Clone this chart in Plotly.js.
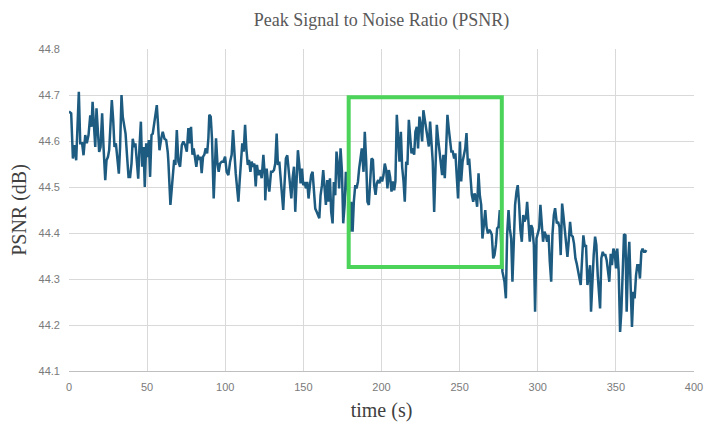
<!DOCTYPE html>
<html>
<head>
<meta charset="utf-8">
<script src="https://cdn.plot.ly/plotly-3.0.1.min.js"></script>
<style>html,body{margin:0;padding:0;background:#fff;}#chart{width:714px;height:432px;}</style>
</head>
<body>
<div id="chart"></div>
<script>
// time (s)
const timeSec = [
0,1.4,2.5,3.5,4.6,5.7,6.3,7.2,8.4,9.3,10.4,11.4,12.5,13.6,14.4,15.1,15.9,16.8,17.6,18.5,
19.3,20.2,21.2,22.1,23.2,24.0,24.9,25.7,26.6,27.4,28.3,29.1,30.0,31.0,31.9,32.7,33.6,34.4,35.3,36.2,
37.2,38.1,39.1,40.0,40.8,41.7,42.5,43.4,44.3,45.1,46.0,46.8,47.7,48.5,49.4,50.2,51.1,51.9,52.8,53.6,
54.5,55.3,56.2,57.0,57.9,59.0,60.0,61.1,62.2,63.2,
63.6,64.9,66.2,67.3,68.1,69.0,70.0,71.1,72.2,73.2,74.3,75.4,76.4,77.3,78.1,79.0,79.8,80.7,81.5,82.4,
83.2,84.1,84.9,85.8,86.6,87.5,88.4,89.2,89.8,90.7,91.5,92.6,93.5,94.1,95.0,95.8,96.7,97.7,98.8,99.9,
100.9,102.0,103.1,104.1,105.0,105.8,106.7,107.5,108.4,109.2,110.1,110.9,111.8,112.7,113.5,114.4,115.2,116.1,116.9,117.8,
118.6,119.5,120.3,121.2,122.2,123.3,124.4,125.4,
125.6,126.5,127.3,128.2,129.3,130.3,131.2,132.0,132.9,133.7,134.6,135.4,136.3,137.1,138.0,138.8,139.7,140.5,141.4,142.3,
143.1,144.0,144.8,145.7,146.5,147.4,148.2,149.1,149.9,150.8,151.6,152.5,153.3,154.2,155.0,155.9,156.7,157.6,158.5,159.3,
160.2,161.0,161.9,162.7,163.6,164.4,165.3,166.1,167.0,167.8,168.7,169.5,170.4,171.2,172.1,172.9,173.8,174.7,175.5,176.4,
177.2,178.1,178.9,179.8,180.6,181.5,182.3,183.2,184.0,184.9,185.7,186.6,187.4,
188.5,189.3,190.2,191.0,191.9,192.7,193.6,194.5,195.3,196.2,197.0,197.9,198.7,199.6,200.4,201.3,202.1,203.0,203.8,204.7,
205.5,206.4,207.2,208.1,208.9,209.8,210.6,211.5,212.4,213.2,214.1,214.9,215.8,216.6,217.5,218.3,219.2,220.0,220.9,221.7,
222.6,223.4,224.3,225.1,226.0,226.8,227.7,228.6,229.4,230.3,231.1,232.0,232.8,233.7,234.5,235.4,236.2,237.1,237.9,238.8,
239.6,240.5,241.3,242.2,243.0,243.9,244.7,245.6,246.5,247.3,248.2,249.0,
250.2,251.0,251.9,252.7,253.6,254.4,255.3,256.1,257.0,257.8,258.7,259.5,260.4,261.2,262.1,262.9,263.8,264.6,265.5,266.4,
267.2,268.1,268.9,269.8,270.6,271.5,272.3,273.2,274.0,274.9,275.7,276.6,277.4,278.7,279.6,280.4,281.3,282.1,283.0,283.8,
284.7,285.5,286.4,287.2,288.1,288.9,289.8,290.7,291.5,292.4,293.2,294.1,294.9,295.8,296.6,297.5,298.3,299.2,300.0,300.9,
301.7,302.6,303.4,304.3,305.1,306.0,306.9,307.7,308.6,309.4,310.3,311.1,
312.2,313.0,313.9,314.7,315.6,316.4,317.3,318.1,319.0,319.8,320.7,321.5,322.4,323.2,324.1,324.9,325.8,326.7,327.5,328.4,
329.2,330.1,330.9,331.8,332.6,333.5,334.1,335.0,335.8,336.7,337.5,338.4,339.2,339.9,340.7,341.6,342.4,343.3,344.1,345.0,
345.8,346.7,347.5,348.4,349.2,350.1,350.9,351.8,352.7,353.5,354.4,355.2,356.1,356.9,357.8,358.6,359.5,360.3,361.2,362.0,
362.9,363.7,364.6,365.4,366.3,367.1,368.0,368.8,369.5
];

// PSNR (dB)
const psnrDb = [
44.664,44.660,44.562,44.591,44.558,44.645,44.707,44.595,44.595,44.569,44.613,44.595,44.613,44.656,44.631,44.685,44.638,44.587,44.671,44.616,
44.576,44.587,44.660,44.587,44.515,44.558,44.565,44.580,44.653,44.689,44.645,44.587,44.595,44.565,44.529,44.587,44.700,44.653,44.638,44.616,
44.565,44.522,44.522,44.551,44.605,44.587,44.595,44.558,44.518,44.587,44.642,44.544,44.587,44.500,44.595,44.565,44.602,44.522,44.613,44.616,
44.638,44.664,44.678,44.635,44.580,44.605,44.620,44.605,44.602,44.576,
44.555,44.461,44.519,44.559,44.548,44.624,44.555,44.544,44.591,44.599,44.591,44.577,44.628,44.595,44.631,44.570,44.584,44.559,44.544,44.570,
44.559,44.566,44.530,44.566,44.570,44.584,44.573,44.606,44.657,44.653,44.606,44.475,44.548,44.606,44.551,44.533,44.551,44.555,44.555,44.566,
44.533,44.526,44.555,44.570,44.624,44.570,44.530,44.501,44.468,44.512,44.555,44.595,44.577,44.635,44.584,44.548,44.559,44.533,44.555,44.544,
44.551,44.501,44.548,44.526,44.537,44.519,44.570,44.519,
44.471,44.540,44.511,44.490,44.533,44.533,44.537,44.551,44.616,44.548,44.555,44.526,44.490,44.450,44.511,44.562,44.569,44.540,44.511,44.475,
44.519,44.544,44.446,44.519,44.580,44.548,44.508,44.540,44.504,44.511,44.497,44.511,44.475,44.504,44.526,44.533,44.490,44.453,44.446,44.439,
44.432,44.482,44.504,44.537,44.497,44.461,44.515,44.468,44.519,44.446,44.421,44.511,44.482,44.577,44.548,44.497,44.584,44.533,44.421,44.461,
44.533,44.511,44.468,44.403,44.468,44.403,44.468,44.504,44.497,44.511,44.540,44.562,44.584,
44.533,44.620,44.555,44.468,44.461,44.519,44.562,44.559,44.504,44.483,44.508,44.515,44.508,44.522,44.512,44.526,44.551,44.537,44.497,44.537,
44.522,44.490,44.512,44.493,44.512,44.657,44.606,44.555,44.620,44.544,44.512,44.468,44.555,44.548,44.646,44.606,44.573,44.584,44.570,44.620,
44.631,44.584,44.653,44.635,44.599,44.667,44.649,44.628,44.606,44.588,44.642,44.591,44.555,44.446,44.555,44.635,44.606,44.580,44.544,44.526,
44.570,44.519,44.577,44.657,44.628,44.606,44.577,44.577,44.562,44.573,44.526,44.475,
44.599,44.512,44.555,44.573,44.584,44.617,44.548,44.562,44.526,44.483,44.468,44.486,44.479,44.457,44.530,44.483,44.461,44.388,44.417,44.450,
44.414,44.399,44.407,44.403,44.396,44.345,44.352,44.374,44.410,44.414,44.450,44.381,44.316,44.294,44.258,44.396,44.450,44.410,44.388,44.294,
44.396,44.461,44.490,44.504,44.461,44.407,44.381,44.439,44.425,44.432,44.468,44.410,44.381,44.417,44.410,44.374,44.229,44.388,44.396,44.410,
44.461,44.425,44.381,44.403,44.396,44.381,44.396,44.338,44.294,44.396,44.439,44.454,
44.421,44.424,44.413,44.352,44.464,44.439,44.403,44.381,44.348,44.381,44.424,44.395,44.392,44.377,44.345,44.334,44.319,44.308,44.287,44.345,
44.395,44.370,44.374,44.287,44.308,44.330,44.229,44.301,44.352,44.392,44.374,44.308,44.265,44.236,44.345,44.359,44.352,44.352,44.341,44.316,
44.294,44.355,44.330,44.366,44.359,44.323,44.366,44.316,44.185,44.229,44.316,44.397,44.395,44.229,44.337,44.381,44.279,44.196,44.272,44.258,
44.308,44.330,44.330,44.301,44.359,44.366,44.359,44.359,44.363
];

// highlighted window
const boxTime = [179, 277];
const boxPsnr = [44.326, 44.695];

const xTicks = [0, 50, 100, 150, 200, 250, 300, 350, 400];
const yTicks = [44.1, 44.2, 44.3, 44.4, 44.5, 44.6, 44.7, 44.8];

const trace = {
  x: timeSec, y: psnrDb, type: 'scatter', mode: 'lines',
  line: {color: '#1d5b80', width: 2.5},
  hoverinfo: 'x+y'
};

const layout = {
  width: 714, height: 432,
  margin: {l: 69, r: 20, t: 49, b: 61},
  paper_bgcolor: '#ffffff', plot_bgcolor: '#ffffff',
  showlegend: false,
  title: {
    text: 'Peak Signal to Noise Ratio (PSNR)',
    font: {family: 'Liberation Serif, Times New Roman, serif', size: 18, color: '#595959'},
    x: 0.5, xref: 'paper', y: 0.955, yref: 'container', yanchor: 'middle'
  },
  xaxis: {
    range: [0, 400], tickvals: xTicks, ticktext: xTicks.map(String),
    showgrid: true, gridcolor: '#d9d9d9', gridwidth: 1,
    zeroline: false, showline: true, linecolor: '#bfbfbf', linewidth: 1,
    ticks: '', tickfont: {family: 'Liberation Sans, Arial, sans-serif', size: 11, color: '#7a7a7a'},
    ticklabelstandoff: 6,
    title: {text: 'time (s)', font: {family: 'Liberation Serif, Times New Roman, serif', size: 20, color: '#404040'}, standoff: 10}
  },
  yaxis: {
    range: [44.1, 44.8], tickvals: yTicks, ticktext: yTicks.map(v => v.toFixed(1)),
    showgrid: true, gridcolor: '#d9d9d9', gridwidth: 1,
    zeroline: false, showline: false,
    ticks: '', tickfont: {family: 'Liberation Sans, Arial, sans-serif', size: 11, color: '#7a7a7a'},
    ticklabelstandoff: 8,
    title: {text: 'PSNR (dB)', font: {family: 'Liberation Serif, Times New Roman, serif', size: 20, color: '#404040'}, standoff: 6}
  },
  shapes: [{
    type: 'rect', xref: 'x', yref: 'y',
    x0: boxTime[0], x1: boxTime[1], y0: boxPsnr[0], y1: boxPsnr[1],
    line: {color: '#4cd35a', width: 4}, fillcolor: 'rgba(0,0,0,0)', layer: 'above'
  }]
};

Plotly.newPlot('chart', [trace], layout, {displayModeBar: false, staticPlot: true});
</script>
</body>
</html>
